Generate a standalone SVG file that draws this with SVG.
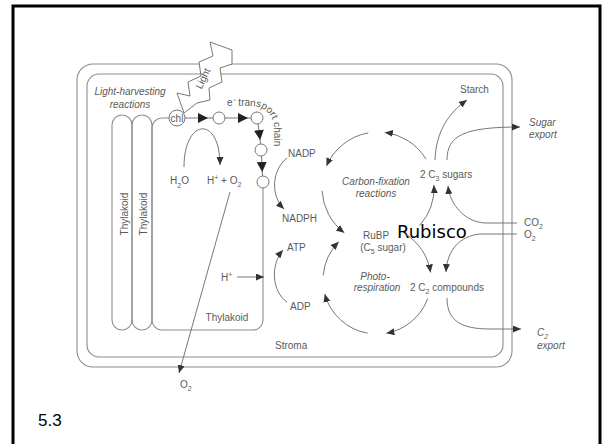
<svg xmlns="http://www.w3.org/2000/svg" width="602" height="444" viewBox="0 0 602 444">
<style>
.m{fill:none;stroke:#8c8c8c;stroke-width:1.1}
.l{fill:none;stroke:#777;stroke-width:1}
.t{font-family:"Liberation Sans",Arial,sans-serif;font-size:10px;fill:#5a5a5a}
.i{font-style:italic}
.s{font-size:7px}
.c{fill:#fff;stroke:#777;stroke-width:1}
</style>
<defs>
<marker id="a" markerUnits="userSpaceOnUse" markerWidth="9" markerHeight="7" refX="8" refY="3.5" orient="auto"><path d="M0,0 L8,3.5 L0,7 z" fill="#333"/></marker>
<marker id="tri" markerUnits="userSpaceOnUse" markerWidth="11" markerHeight="10" refX="5" refY="5" orient="auto"><path d="M0,0 L10,5 L0,10 z" fill="#222"/></marker>
</defs>
<rect x="13" y="6" width="587" height="460" fill="#fff" stroke="#000" stroke-width="3"/>
<g id="chloroplast">
<rect class="m" x="77" y="64" width="435" height="303" rx="16"/>
<rect class="m" x="87" y="74" width="416" height="283" rx="12"/>
</g>
<g id="thylakoids">
<rect class="m" x="112" y="115" width="20" height="215" rx="10"/>
<rect class="m" x="132" y="115" width="20" height="215" rx="10"/>
<path class="m" d="M152,320 V128 A10,10 0 0 1 162,118 H169 M263,188 V320 A10,10 0 0 1 253,330 H162 A10,10 0 0 1 152,320"/>
<text class="t" transform="translate(128,214) rotate(-90)" text-anchor="middle">Thylakoid</text>
<text class="t" transform="translate(147,214) rotate(-90)" text-anchor="middle">Thylakoid</text>
<text class="t" x="227" y="321" text-anchor="middle">Thylakoid</text>
</g>
<g id="light">
<path d="M210,42 L232,50 L232,64 L220,68 L222,82 L209,88 L210,100 L197,103 L184,113 L177,93 L190,96 L188,82 L201,76 L199,62 L213,56 Z" fill="#fff" stroke="#777" stroke-width="1"/>
<text class="t" font-size="9" transform="translate(206,80) rotate(-65)" text-anchor="middle">Light</text>
</g>
<g id="labels-left">
<text class="t i" x="130" y="95" text-anchor="middle">Light-harvesting</text>
<text class="t i" x="130" y="108" text-anchor="middle">reactions</text>
<path id="etp" d="M227,106 H252 A22,22 0 0 1 274,128 V170" fill="none"/>
<text class="t"><textPath href="#etp">e⁻ transport chain</textPath></text>
<text class="t" x="170" y="184">H<tspan class="s" dy="4">2</tspan><tspan dy="-4">O</tspan></text>
<text class="t" x="207" y="184">H<tspan class="s" dy="-4">+</tspan><tspan dy="4"> + O</tspan><tspan class="s" dy="3">2</tspan></text>
<text class="t" x="180" y="388">O<tspan class="s" dy="3">2</tspan></text>
<text class="t" x="221" y="281">H<tspan class="s" dy="-4">+</tspan></text>
<text class="t" x="275" y="349">Stroma</text>
</g>
<g id="chain">
<circle class="c" cx="177" cy="118" r="8"/>
<text class="t" x="177" y="121.5" text-anchor="middle" font-size="9">chl</text>
<circle class="c" cx="219" cy="118" r="6"/>
<circle class="c" cx="257" cy="118" r="6"/>
<circle class="c" cx="261" cy="150" r="6"/>
<circle class="c" cx="263" cy="182" r="6"/>
</g>
<g id="cycle-labels">
<text class="t i" x="376" y="185" text-anchor="middle">Carbon-fixation</text>
<text class="t i" x="376" y="197" text-anchor="middle">reactions</text>
<text class="t" x="420" y="178">2 C<tspan class="s" dy="3">3</tspan><tspan dy="-3"> sugars</tspan></text>
<text class="t" x="376" y="239" text-anchor="middle">RuBP</text>
<text class="t" x="383" y="251" text-anchor="middle">(C<tspan class="s" dy="3">5</tspan><tspan dy="-3"> sugar)</tspan></text>
<text x="397" y="238" font-family="'DejaVu Sans',sans-serif" font-size="18" fill="#000">Rubisco</text>
<text class="t i" x="375" y="280" text-anchor="middle">Photo-</text>
<text class="t i" x="377" y="291" text-anchor="middle">respiration</text>
<text class="t" x="410" y="291">2 C<tspan class="s" dy="3">2</tspan><tspan dy="-3">  compounds</tspan></text>
<text class="t" x="288" y="157">NADP</text>
<text class="t" x="282" y="222">NADPH</text>
<text class="t" x="287" y="251">ATP</text>
<text class="t" x="290" y="310">ADP</text>
<text class="t" x="460" y="93">Starch</text>
<text class="t i" x="529" y="126">Sugar</text>
<text class="t i" x="529" y="138">export</text>
<text class="t" x="524" y="226">CO<tspan class="s" dy="3">2</tspan></text>
<text class="t" x="524" y="238">O<tspan class="s" dy="3">2</tspan></text>
<text class="t i" x="537" y="336">C<tspan class="s" dy="3">2</tspan></text>
<text class="t i" x="537" y="349">export</text>
</g>
<g id="connectors">
<path class="l" d="M185,118 L203,118 L213,118" marker-mid="url(#tri)"/>
<path class="l" d="M225,118 L243,118 L251,118" marker-mid="url(#tri)"/>
<path class="l" d="M258,124 L259.5,135 L260.5,144" marker-mid="url(#tri)"/>
<path class="l" d="M261.5,156 L262,167 L262.5,176" marker-mid="url(#tri)"/>
<path class="l" d="M184,167 C184,118 220,115 220,165" marker-end="url(#a)"/>
<path class="l" d="M230,192 L179,373" marker-end="url(#a)"/>
<path class="l" d="M237,277 L264,277" marker-end="url(#a)"/>
<path class="l" d="M287,158 C272,170 270,195 284,209" marker-end="url(#a)"/>
<path class="l" d="M287,302 C272,292 270,265 283,250" marker-end="url(#a)"/>
<path class="l" d="M426,159.2 A56,56 0 0 0 384.8,132.4" marker-end="url(#a)"/>
<path class="l" d="M368.3,132.9 A56,56 0 0 0 326.5,166.1" marker-end="url(#a)"/>
<path class="l" d="M322.1,190.9 A56,56 0 0 0 344.3,232.7" marker-end="url(#a)"/>
<path class="l" d="M419.6,225.5 A56,56 0 0 0 433.9,185.1" marker-end="url(#a)"/>
<path class="l" d="M404,233.2 A54,54 0 0 1 430.5,272.5" marker-end="url(#a)"/>
<path class="l" d="M427.7,298.5 A54,54 0 0 1 386.4,333.2" marker-end="url(#a)"/>
<path class="l" d="M367.6,333.2 A54,54 0 0 1 324.8,294" marker-end="url(#a)"/>
<path class="l" d="M323.2,275.3 A54,54 0 0 1 338.8,241.8" marker-end="url(#a)"/>
<path class="l" d="M435,160 C436,130 450,112 467,100" marker-end="url(#a)"/>
<path class="l" d="M447,160 C447,135 465,127 520,127" marker-end="url(#a)"/>
<path class="l" d="M517,223 L485,223 C465,222 450,205 448,186" marker-end="url(#a)"/>
<path class="l" d="M517,234 L480,234 C460,236 447,250 446,272" marker-end="url(#a)"/>
<path class="l" d="M447,298 C447,320 460,329 490,329 L521,329" marker-end="url(#a)"/>
</g>
<text x="38" y="426" font-family="'Liberation Sans',Arial,sans-serif" font-size="17" fill="#000">5.3</text>
</svg>
